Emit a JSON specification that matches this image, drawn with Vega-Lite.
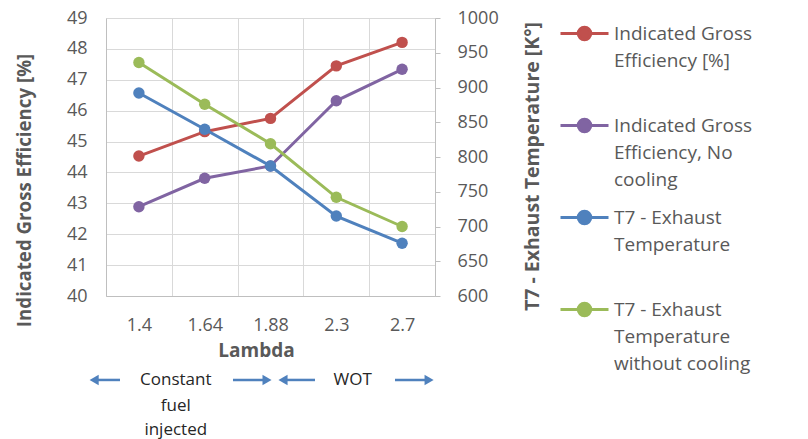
{
  "$schema": "https://vega.github.io/schema/vega-lite/v6.json",
  "width": 329,
  "height": 278,
  "autosize": "none",
  "padding": {"left": 106, "top": 18, "right": 373, "bottom": 143},
  "background": "white",
  "config": {
    "view": {"stroke": null},
    "font": "Open Sans",
    "axis": {
      "labelFont": "Open Sans",
      "titleFont": "Open Sans",
      "labelColor": "#595959",
      "titleColor": "#595959",
      "labelFontSize": 18,
      "titleFontSize": 18,
      "titleFontWeight": "bold",
      "gridColor": "#d9d9d9",
      "domainColor": "#bfbfbf",
      "tickColor": "#bfbfbf"
    }
  },
  "data": {
    "values": [
      {"lambda": "1.4", "series": "Indicated Gross Efficiency [%]", "kind": "eff", "value": 44.53},
      {"lambda": "1.64", "series": "Indicated Gross Efficiency [%]", "kind": "eff", "value": 45.32},
      {"lambda": "1.88", "series": "Indicated Gross Efficiency [%]", "kind": "eff", "value": 45.75},
      {"lambda": "2.3", "series": "Indicated Gross Efficiency [%]", "kind": "eff", "value": 47.45},
      {"lambda": "2.7", "series": "Indicated Gross Efficiency [%]", "kind": "eff", "value": 48.21},
      {"lambda": "1.4", "series": "Indicated Gross Efficiency, No cooling", "kind": "eff", "value": 42.89},
      {"lambda": "1.64", "series": "Indicated Gross Efficiency, No cooling", "kind": "eff", "value": 43.81},
      {"lambda": "1.88", "series": "Indicated Gross Efficiency, No cooling", "kind": "eff", "value": 44.21},
      {"lambda": "2.3", "series": "Indicated Gross Efficiency, No cooling", "kind": "eff", "value": 46.32},
      {"lambda": "2.7", "series": "Indicated Gross Efficiency, No cooling", "kind": "eff", "value": 47.34},
      {"lambda": "1.4", "series": "T7 - Exhaust Temperature", "kind": "temp", "value": 892},
      {"lambda": "1.64", "series": "T7 - Exhaust Temperature", "kind": "temp", "value": 840},
      {"lambda": "1.88", "series": "T7 - Exhaust Temperature", "kind": "temp", "value": 787},
      {"lambda": "2.3", "series": "T7 - Exhaust Temperature", "kind": "temp", "value": 715},
      {"lambda": "2.7", "series": "T7 - Exhaust Temperature", "kind": "temp", "value": 676},
      {"lambda": "1.4", "series": "T7 - Exhaust Temperature without cooling", "kind": "temp", "value": 936},
      {"lambda": "1.64", "series": "T7 - Exhaust Temperature without cooling", "kind": "temp", "value": 876},
      {"lambda": "1.88", "series": "T7 - Exhaust Temperature without cooling", "kind": "temp", "value": 819},
      {"lambda": "2.3", "series": "T7 - Exhaust Temperature without cooling", "kind": "temp", "value": 742},
      {"lambda": "2.7", "series": "T7 - Exhaust Temperature without cooling", "kind": "temp", "value": 700}
    ]
  },
  "layer": [
    {
      "transform": [{"filter": "datum.kind == 'eff'"}],
      "mark": {"type": "line", "strokeWidth": 3, "point": {"filled": true, "size": 130}},
      "encoding": {
        "x": {
          "field": "lambda", "type": "ordinal", "sort": ["1.4", "1.64", "1.88", "2.3", "2.7"],
          "scale": {"type": "point", "padding": 0.5},
          "axis": {"title": "Lambda", "labelAngle": 0, "ticks": false, "grid": false, "domain": true, "labelPadding": 20, "titleFontSize": 19, "titleX": 150, "titleY": 54, "titleBaseline": "middle"}
        },
        "y": {
          "field": "value", "type": "quantitative",
          "scale": {"domain": [40, 49], "nice": false, "zero": false},
          "axis": {"orient": "left", "values": [40, 41, 42, 43, 44, 45, 46, 47, 48, 49], "grid": true, "ticks": false, "domain": true, "labelPadding": 19, "title": "Indicated Gross Efficiency [%]", "titleFontSize": 18.7, "titleAngle": -90, "titleX": -82, "titleY": 172, "titleBaseline": "middle", "titleAlign": "center"}
        },
        "color": {
          "field": "series", "type": "nominal",
          "scale": {
            "domain": ["Indicated Gross Efficiency [%]", "Indicated Gross Efficiency, No cooling", "T7 - Exhaust Temperature", "T7 - Exhaust Temperature without cooling"],
            "range": ["#C0504D", "#8064A2", "#4F81BD", "#9BBB59"]
          },
          "legend": {
            "orient": "none",
            "legendX": 453,
            "legendY": -10,
            "title": null,
            "padding": 0,
            "gridAlign": "all",
            "rowPadding": 2,
            "symbolType": "M-1,0L1,0M-0.26,0A0.26,0.26 0 1,0 0.26,0A0.26,0.26 0 1,0 -0.26,0Z",
            "symbolSize": 2304,
            "symbolStrokeWidth": 3,
            "labelFont": "Open Sans",
            "labelFontSize": 19,
            "labelColor": "#595959",
            "labelLimit": 250,
            "labelOffset": 4,
            "labelBaseline": "middle",
            "labelExpr": "datum.label == 'Indicated Gross Efficiency [%]' ? ['Indicated Gross', 'Efficiency [%]'] : datum.label == 'Indicated Gross Efficiency, No cooling' ? ['Indicated Gross', 'Efficiency, No', 'cooling'] : datum.label == 'T7 - Exhaust Temperature' ? ['T7 - Exhaust', 'Temperature'] : ['T7 - Exhaust', 'Temperature', 'without cooling']",
            "encode": {
              "symbols": {"update": {"fill": {"scale": "color", "field": "value"}}},
              "labels": {"update": {"lineHeight": {"value": 27}}}
            }
          }
        }
      }
    },
    {
      "transform": [{"filter": "datum.kind == 'temp'"}],
      "mark": {"type": "line", "strokeWidth": 3, "point": {"filled": true, "size": 130}},
      "encoding": {
        "x": {
          "field": "lambda", "type": "ordinal", "sort": ["1.4", "1.64", "1.88", "2.3", "2.7"],
          "scale": {"type": "point", "padding": 0.5},
          "axis": null
        },
        "y": {
          "field": "value", "type": "quantitative",
          "scale": {"domain": [600, 1000], "nice": false, "zero": false},
          "axis": {"orient": "right", "format": "d", "values": [600, 650, 700, 750, 800, 850, 900, 950, 1000], "grid": false, "ticks": true, "tickSize": 5, "domain": true, "labelPadding": 17, "title": "T7 - Exhaust Temperature [K°]", "titleFontSize": 19.5, "titleAngle": -90, "titleX": 97, "titleY": 148, "titleBaseline": "middle", "titleAlign": "center"}
        },
        "color": {"field": "series", "type": "nominal"}
      }
    },
    {
      "data": {
        "values": [
          {"part": "rule", "u": 0.213, "u2": -0.18, "v": -0.302},
          {"part": "left", "u": -0.18, "v": -0.302},
          {"part": "rule", "u": 1.93, "u2": 2.447, "v": -0.302},
          {"part": "right", "u": 2.447, "v": -0.302},
          {"part": "rule", "u": 3.176, "u2": 2.69, "v": -0.302},
          {"part": "left", "u": 2.69, "v": -0.302},
          {"part": "rule", "u": 4.392, "u2": 4.91, "v": -0.302},
          {"part": "right", "u": 4.91, "v": -0.302},
          {"part": "text", "u": 1.06, "v": -0.302, "label": "Constant"},
          {"part": "text", "u": 1.06, "v": -0.396, "label": "fuel"},
          {"part": "text", "u": 1.06, "v": -0.482, "label": "injected"},
          {"part": "text", "u": 3.75, "v": -0.302, "label": "WOT"}
        ]
      },
      "layer": [
        {
          "transform": [{"filter": "datum.part == 'rule'"}],
          "mark": {"type": "rule", "color": "#4F81BD", "strokeWidth": 2.5},
          "encoding": {
            "x": {"field": "u", "type": "quantitative", "scale": {"domain": [0, 5], "nice": false, "zero": false},
              "axis": {"orient": "top", "values": [0, 1, 2, 3, 4, 5], "grid": true, "labels": false, "ticks": false, "domain": false, "title": null}},
            "x2": {"field": "u2"},
            "y": {"field": "v", "type": "quantitative", "scale": {"domain": [0, 1], "nice": false, "zero": false}, "axis": null}
          }
        },
        {
          "transform": [{"filter": "datum.part == 'left' || datum.part == 'right'"}],
          "mark": {"type": "point", "filled": true, "color": "#4F81BD", "opacity": 1, "size": 110},
          "encoding": {
            "x": {"field": "u", "type": "quantitative"},
            "y": {"field": "v", "type": "quantitative"},
            "shape": {"field": "part", "type": "nominal", "scale": {"domain": ["left", "right"], "range": ["triangle-left", "triangle-right"]}, "legend": null}
          }
        },
        {
          "transform": [{"filter": "datum.part == 'text'"}],
          "mark": {"type": "text", "font": "Open Sans", "fontSize": 17, "color": "#262626", "baseline": "middle", "align": "center"},
          "encoding": {
            "x": {"field": "u", "type": "quantitative"},
            "y": {"field": "v", "type": "quantitative"},
            "text": {"field": "label"}
          }
        }
      ]
    }
  ],
  "resolve": {"scale": {"x": "independent", "y": "independent"}}
}
